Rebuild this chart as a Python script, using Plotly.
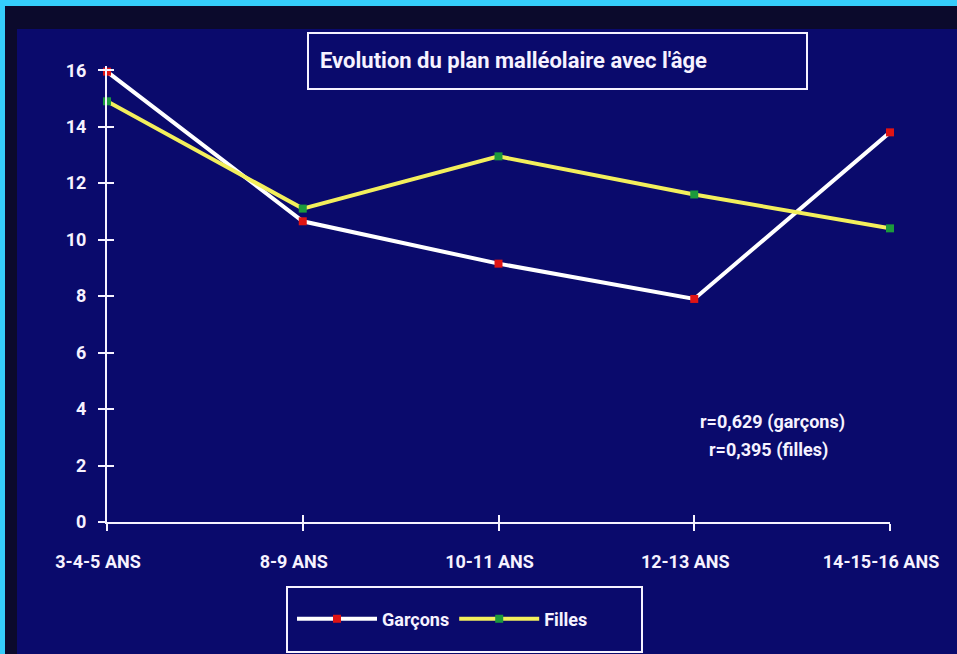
import plotly.graph_objects as go

categories = ["3-4-5 ANS", "8-9 ANS", "10-11 ANS", "12-13 ANS", "14-15-16 ANS"]
garcons = [15.95, 10.65, 9.15, 7.9, 13.8]
filles = [14.9, 11.1, 12.95, 11.6, 10.4]
y_ticks = [0, 2, 4, 6, 8, 10, 12, 14, 16]
title_text = "Evolution du plan malléolaire avec l'âge"
r_lines = ["r=0,629 (garçons)", "r=0,395 (filles)"]

W, H = 957, 654
L, R, T, B = 107, 890, 66, 522  # plot area in pixels

def px(x):
    return (x - L) / (R - L)

def py(y):
    return (B - y) / (B - T)

FONT = "Roboto, Liberation Sans, sans-serif"
TXT = "#f6f2ff"
BG = "#0a0a6c"

fig = go.Figure()
fig.add_trace(go.Scatter(
    x=categories, y=garcons, name="Garçons", mode="lines+markers",
    line=dict(color="#ffffff", width=4),
    marker=dict(symbol="square", size=8, color="#e01414", line=dict(width=0)),
    cliponaxis=False,
))
fig.add_trace(go.Scatter(
    x=categories, y=filles, name="Filles", mode="lines+markers",
    line=dict(color="#f3ef5c", width=4),
    marker=dict(symbol="square", size=8, color="#1c9a3c", line=dict(width=0)),
    cliponaxis=False,
))

axis_common = dict(showgrid=False, zeroline=False, showline=True, linecolor=TXT,
                   linewidth=2, tickcolor=TXT, tickwidth=2, ticklen=7)
fig.update_layout(
    width=W, height=H,
    margin=dict(l=L, r=W - R, t=T, b=H - B),
    paper_bgcolor=BG, plot_bgcolor=BG,
    font=dict(family=FONT, color=TXT, size=18),
    xaxis=dict(type="category", range=[0, 4], ticks="outside",
               tickfont=dict(family=FONT, size=18, color=TXT, weight="bold"),
               ticklabelstandoff=15, ticklabelshift=-9, **axis_common),
    yaxis=dict(range=[0, 16.15], tickvals=y_ticks, ticks="outside",
               tickfont=dict(family=FONT, size=18, color=TXT, weight="bold"),
               ticklabelstandoff=8, **axis_common),
    xaxis2=dict(type="category", range=[0, 4], overlaying="x", matches="x",
                ticks="inside", showticklabels=False, **axis_common),
    yaxis2=dict(range=[0, 16.15], tickvals=y_ticks, overlaying="y",
                ticks="inside", showticklabels=False, **axis_common),
    showlegend=True,
    legend=dict(orientation="h", x=px(292), y=py(619), xanchor="left", yanchor="middle",
                bgcolor="rgba(0,0,0,0)", borderwidth=0, itemwidth=80,
                font=dict(family=FONT, size=18, color=TXT, weight="bold")),
)
# invisible trace to activate the overlay axes (crossing ticks)
fig.add_trace(go.Scatter(x=categories, y=garcons, xaxis="x2", yaxis="y2", mode="none",
                         showlegend=False, hoverinfo="skip"))

shapes = [
    dict(type="rect", xref="paper", yref="paper", x0=px(5), x1=px(W), y0=py(6), y1=py(29),
         fillcolor="#0b0a2c", line=dict(width=0), layer="below"),
    dict(type="rect", xref="paper", yref="paper", x0=px(5), x1=px(17), y0=py(6), y1=py(H),
         fillcolor="#0b0a2c", line=dict(width=0), layer="below"),
    dict(type="rect", xref="paper", yref="paper", x0=px(0), x1=px(W), y0=py(0), y1=py(6),
         fillcolor="#35cdfc", line=dict(width=0), layer="below"),
    dict(type="rect", xref="paper", yref="paper", x0=px(0), x1=px(5), y0=py(0), y1=py(H),
         fillcolor="#35cdfc", line=dict(width=0), layer="below"),
    dict(type="rect", xref="paper", yref="paper", x0=px(308), x1=px(807), y0=py(89), y1=py(33),
         line=dict(color=TXT, width=2), fillcolor="rgba(0,0,0,0)"),
    dict(type="rect", xref="paper", yref="paper", x0=px(287), x1=px(642), y0=py(652), y1=py(587),
         line=dict(color=TXT, width=2), fillcolor="rgba(0,0,0,0)"),
]
fig.update_layout(shapes=shapes)

fig.add_annotation(text=title_text, xref="paper", yref="paper", x=px(318), y=py(60),
                   xanchor="left", yanchor="middle", showarrow=False,
                   font=dict(family=FONT, size=22, color=TXT, weight="bold"))
for txt, cx, cy in zip(r_lines, [772, 768], [422, 450]):
    fig.add_annotation(text=txt, xref="paper", yref="paper", x=px(cx), y=py(cy),
                       xanchor="center", yanchor="middle", showarrow=False,
                       font=dict(family=FONT, size=18, color=TXT, weight="bold"))

fig.write_html("out.html", config={"displayModeBar": False},
               post_script="document.body.style.margin='0';document.body.style.overflow='hidden';")
